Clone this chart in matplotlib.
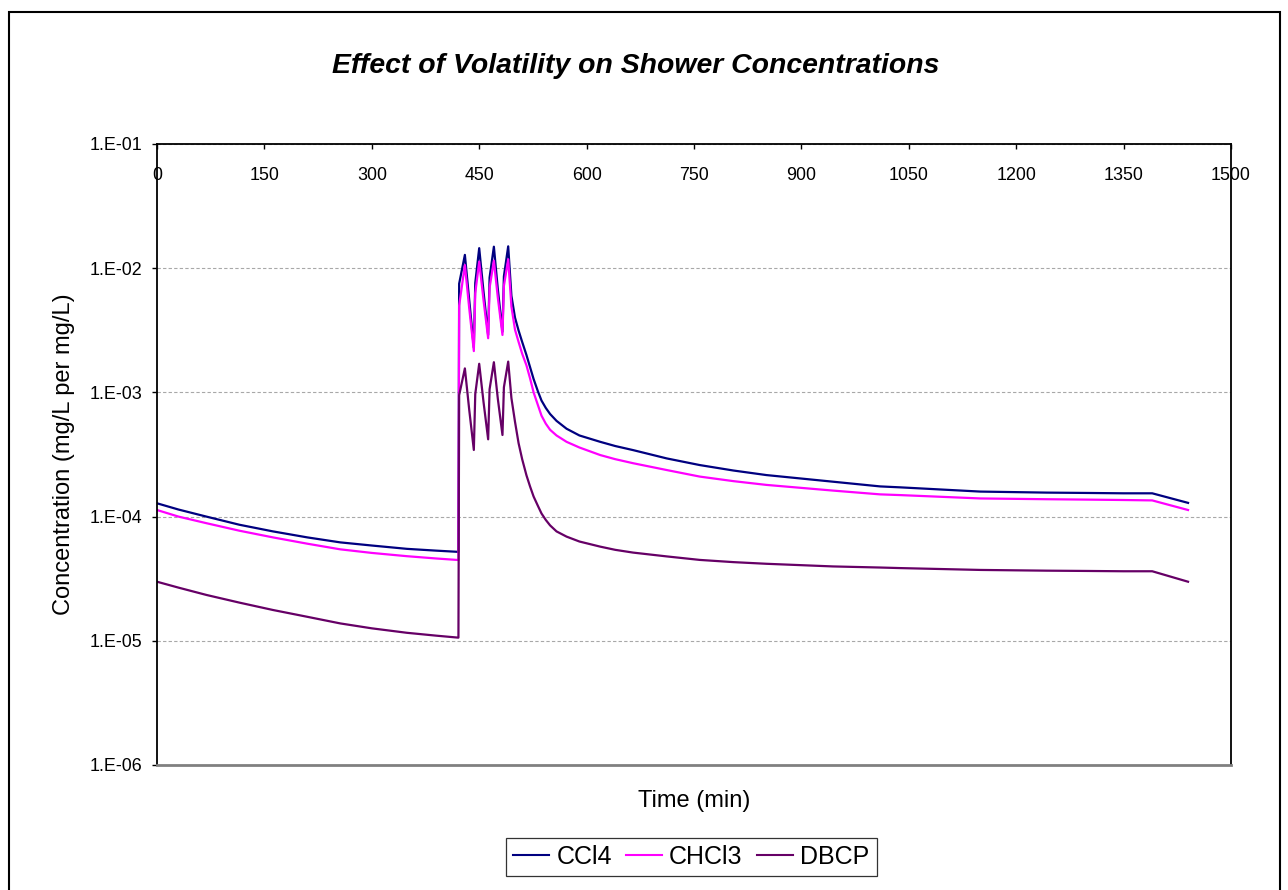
import numpy as np
import matplotlib
matplotlib.use("Agg")
import matplotlib.pyplot as plt
from matplotlib.patches import Rectangle
from matplotlib.ticker import FixedLocator, FuncFormatter, NullLocator

plt.rcParams['font.family'] = ['Liberation Sans', 'DejaVu Sans']

# Time axis (minutes) shared by all three series
minutes = [0, 30, 69, 115, 162, 210, 256, 300, 349, 390, 421,
           422, 430, 436, 442.5, 444.5, 450, 456, 462.5, 464.5, 470.5, 476, 482.5, 484.5, 490.5,
           495, 500, 505, 510, 516, 521, 526, 532, 537, 543, 549, 558, 572, 590, 619, 640, 665,
           712, 758, 805, 851, 944, 1010, 1038, 1150, 1243, 1300, 1350, 1390, 1440]

# Concentrations (mg/L per mg/L)
ccl4 = [1.28e-4, 1.14e-4, 1.0e-4, 8.6e-5, 7.6e-5, 6.8e-5, 6.2e-5, 5.85e-5, 5.5e-5, 5.32e-5, 5.2e-5,
        7.5e-3, 1.28e-2, 5.6e-3, 2.3e-3, 7.6e-3, 1.45e-2, 6.5e-3, 2.9e-3, 8.4e-3, 1.49e-2, 6.8e-3, 3.08e-3, 8.6e-3, 1.5e-2,
        6.0e-3, 4.0e-3, 3.15e-3, 2.55e-3, 2.0e-3, 1.6e-3, 1.28e-3, 1.02e-3, 8.6e-4, 7.5e-4, 6.7e-4, 5.9e-4, 5.1e-4, 4.5e-4, 4.0e-4, 3.7e-4, 3.43e-4,
        2.94e-4, 2.6e-4, 2.35e-4, 2.16e-4, 1.91e-4, 1.75e-4, 1.72e-4, 1.59e-4, 1.56e-4, 1.55e-4, 1.54e-4, 1.54e-4, 1.29e-4]

chcl3 = [1.13e-4, 1.0e-4, 8.85e-5, 7.7e-5, 6.8e-5, 6.05e-5, 5.45e-5, 5.1e-5, 4.8e-5, 4.6e-5, 4.47e-5,
         5.0e-3, 1.06e-2, 4.8e-3, 2.15e-3, 6.3e-3, 1.13e-2, 5.55e-3, 2.73e-3, 6.95e-3, 1.15e-2, 5.8e-3, 2.9e-3, 7.2e-3, 1.18e-2,
         4.9e-3, 3.2e-3, 2.55e-3, 2.05e-3, 1.65e-3, 1.3e-3, 1.0e-3, 7.9e-4, 6.5e-4, 5.6e-4, 5.0e-4, 4.5e-4, 4.0e-4, 3.6e-4, 3.13e-4, 2.9e-4, 2.69e-4,
         2.37e-4, 2.1e-4, 1.93e-4, 1.8e-4, 1.62e-4, 1.51e-4, 1.49e-4, 1.40e-4, 1.38e-4, 1.37e-4, 1.36e-4, 1.35e-4, 1.13e-4]

dbcp = [2.99e-5, 2.68e-5, 2.34e-5, 2.03e-5, 1.77e-5, 1.56e-5, 1.38e-5, 1.26e-5, 1.16e-5, 1.1e-5, 1.06e-5,
        9.5e-4, 1.56e-3, 7.3e-4, 3.44e-4, 9.7e-4, 1.7e-3, 8.4e-4, 4.19e-4, 1.06e-3, 1.75e-3, 8.9e-4, 4.54e-4, 1.1e-3, 1.77e-3,
        9.0e-4, 5.8e-4, 3.9e-4, 2.9e-4, 2.15e-4, 1.75e-4, 1.45e-4, 1.22e-4, 1.06e-4, 9.4e-5, 8.5e-5, 7.6e-5, 6.9e-5, 6.3e-5, 5.73e-5, 5.4e-5, 5.13e-5,
        4.78e-5, 4.48e-5, 4.3e-5, 4.17e-5, 3.97e-5, 3.89e-5, 3.85e-5, 3.72e-5, 3.67e-5, 3.65e-5, 3.63e-5, 3.63e-5, 2.99e-5]

series_names = ["CCl4", "CHCl3", "DBCP"]
series_colors = ["#000080", "#FF00FF", "#660066"]

x_ticks = [0, 150, 300, 450, 600, 750, 900, 1050, 1200, 1350, 1500]
y_ticks = [1e-6, 1e-5, 1e-4, 1e-3, 1e-2, 1e-1]

W, H = 1288, 890
fig = plt.figure(figsize=(W / 100, H / 100), dpi=100)
ax = fig.add_axes([157 / W, 1 - 765 / H, (1231 - 157) / W, (765 - 144) / H])

for vals, name, col in zip([ccl4, chcl3, dbcp], series_names, series_colors):
    ax.plot(minutes, vals, color=col, lw=1.6, label=name, solid_joinstyle='round')

ax.set_yscale('log')
ax.set_ylim(1e-6, 1e-1)
ax.set_xlim(0, 1500)

ax.yaxis.set_major_locator(FixedLocator(y_ticks))
ax.yaxis.set_minor_locator(NullLocator())
ax.yaxis.set_major_formatter(FuncFormatter(lambda v, p: "1.E-%02d" % int(round(-np.log10(v)))))
ax.xaxis.set_major_locator(FixedLocator(x_ticks))

ax.tick_params(axis='y', which='major', direction='out', length=3.6, width=1,
               labelsize=12.9, pad=7.2, colors='black')
ax.tick_params(axis='x', which='major', bottom=False, labelbottom=False,
               top=True, labeltop=True, direction='in', length=3.6, width=1,
               labelsize=12.9, pad=-28.5)

ax.grid(axis='y', which='major', color='#a8a8a8', linestyle=(0, (3, 2)), lw=0.8)
ax.set_axisbelow(True)

for side in ['left', 'top', 'right']:
    ax.spines[side].set_color('black')
    ax.spines[side].set_linewidth(1.3)
ax.spines['bottom'].set_color('#808080')
ax.spines['bottom'].set_linewidth(2)

ax.set_xlabel("Time (min)", fontsize=17)
ax.xaxis.set_label_coords(0.5, -0.040)
ax.set_ylabel("Concentration (mg/L per mg/L)", fontsize=17)
ax.yaxis.set_label_coords(-0.0763, 0.5)

fig.text(636 / W, 1 - 73 / H, "Effect of Volatility on Shower Concentrations",
         ha='center', va='baseline', fontsize=20.4, fontweight='bold', fontstyle='italic')

leg = ax.legend(loc='center', bbox_to_anchor=(691 / W, 1 - 856.5 / H),
                bbox_transform=fig.transFigure, ncol=3, fontsize=18,
                frameon=True, fancybox=False, shadow=False, borderaxespad=0,
                handlelength=1.45, handletextpad=0.3, columnspacing=0.55, borderpad=0.28)
leg.get_frame().set_edgecolor('black')
leg.get_frame().set_linewidth(0.9)
for ln in leg.get_lines():
    ln.set_linewidth(1.5)

# Outer chart border
fig.add_artist(Rectangle((9 / W, -0.02), (1280 - 9) / W, (H - 12) / H + 0.02,
                         transform=fig.transFigure, fill=False, edgecolor='black', lw=1.5))

fig.savefig("out.png", dpi=100)
